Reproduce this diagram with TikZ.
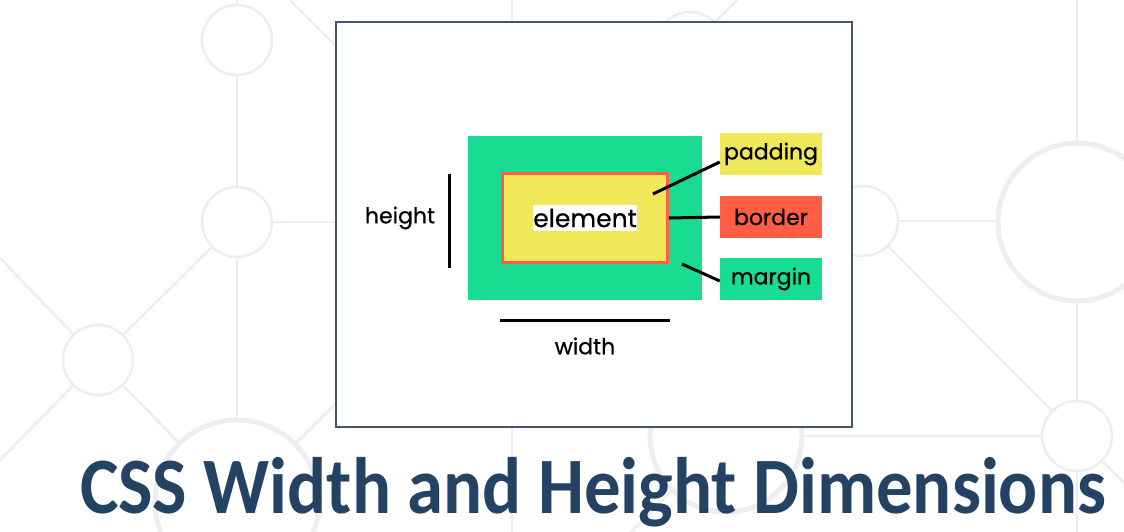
\documentclass[tikz,border=0pt]{standalone}
\usepackage{fontspec}
\usepackage{xcolor}
\usepackage{tikz}
\usetikzlibrary{positioning}
\newfontfamily\labelfont[FakeBold=0.6]{Poppins}
\newfontfamily\titlefont{Carlito}
\definecolor{netgray}{RGB}{236,238,242}
\definecolor{framecol}{RGB}{70,86,106}
\definecolor{margingreen}{RGB}{25,220,147}
\definecolor{padyellow}{RGB}{239,233,90}
\definecolor{borderred}{RGB}{255,94,68}
\definecolor{titleblue}{RGB}{36,66,99}

\begin{document}
\begin{tikzpicture}[x=1pt, y=-1pt,
    net/.style={netgray, line width=2.5pt},
    bignet/.style={netgray, line width=5pt, fill=white},
    lbl/.style={font=\labelfont\fontsize{22}{22}\selectfont, inner sep=0pt},
    tag/.style={lbl, minimum width=102pt, minimum height=42pt},
    lead/.style={black, line width=3pt}]
    \useasboundingbox (0,0) rectangle (1124,532);

    \draw[net] (237,0) -- (237,532);
    \draw[net] (512,0) -- (512,532);
    \draw[net] (1077,0) -- (1077,532);
    \draw[net] (237,222) -- (400,222);
    \draw[net] (237,222) -- (98,360);
    \draw[net] (0,258) -- (98,360) -- (0,460);
    \draw[net] (98,360) -- (237,502) -- (380,359);
    \draw[net] (290,0) -- (400,110);
    \draw[net] (690,47) -- (740,-3);
    \draw[net] (620,543) -- (726,436) -- (1077,436) -- (1130,489);
    \draw[net] (863,221) -- (1077,221);
    \draw[net] (863,221) -- (1077,436);
    \foreach \cx/\cy in {237/40, 237/222, 98/360, 690/47, 863/221, 1077/436}
        \draw[net, fill=white] (\cx,\cy) circle (35);
    \draw[bignet] (237,502) circle (82);
    \draw[bignet] (726,436) circle (76);
    \draw[bignet] (1077,222) circle (79);

    \draw[framecol, line width=2pt, fill=white] (336,22) rectangle (852,427);

    \node (marginbox) [fill=margingreen, minimum width=234pt, minimum height=164pt] at (585,218) {};
    \node (elembox) [draw=borderred, line width=3pt, fill=padyellow, minimum width=165pt, minimum height=89pt] at (585,218) {};
    \node (elemtext) [lbl, font=\labelfont\fontsize{25}{25}\selectfont, fill=white, minimum width=104pt, minimum height=26pt] at (585,218) {element};

    \node (padtag) [tag, fill=padyellow] at (771,154) {padding};
    \node (bordertag) [tag, fill=borderred] at (771,217) {border};
    \node (margintag) [tag, fill=margingreen] at (771,279) {margin};

    \coordinate (padpt) at (653,194);
    \coordinate (marginpt) at (682,264);
    \draw[lead] (padpt) -- ([yshift=-8pt]padtag.west);
    \draw[lead] (elembox.east) -- (bordertag.west);
    \draw[lead] (marginpt) -- ([yshift=-2pt]margintag.west);

    \coordinate (htop) at (449,174);
    \coordinate (hbot) at (449,268);
    \node (heightlbl) [lbl] at (400,218) {height};
    \draw[lead] (htop) -- (hbot);

    \coordinate (wleft) at (500,320);
    \coordinate (wright) at (670,320);
    \node (widthlbl) [lbl] at (585,346) {width};
    \draw[lead] (wleft) -- (wright);

    \node (title) [font=\titlefont\bfseries\fontsize{80}{80}\selectfont, text=titleblue, anchor=base, inner sep=0pt] at (593,513) {\scalebox{0.91}[1]{CSS Width and Height Dimensions}};
\end{tikzpicture}
\end{document}
